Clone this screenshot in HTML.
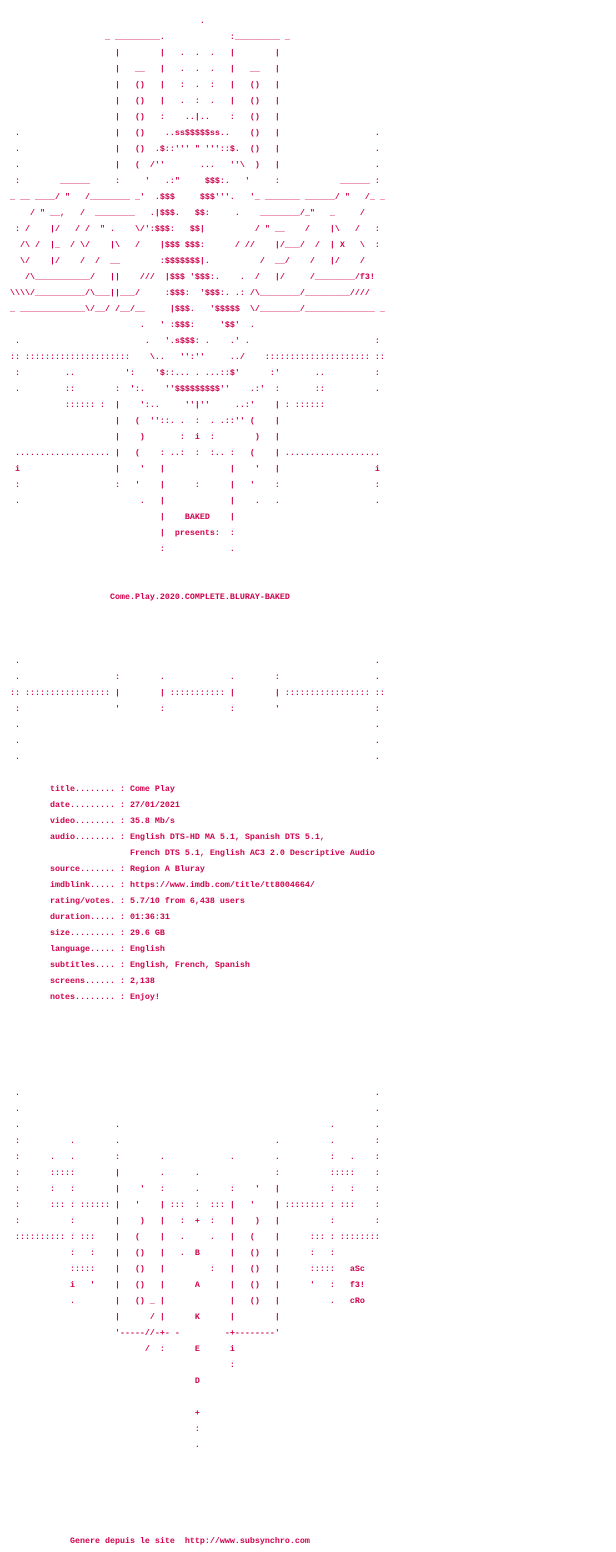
<!DOCTYPE html>
<html><head><meta charset="utf-8"><style>
html,body{margin:0;padding:0;background:#fff;width:616px;height:1552px;overflow:hidden}
pre{margin:0;padding:13px 0 0 0;font-family:"Liberation Mono",monospace;font-size:8.333px;line-height:16px;color:#d0004c;font-weight:bold;white-space:pre}
</style></head><body><pre>                                        .
                     _ _________.             :_________ _
                       |        |   .  .  .   |        |
                       |   __   |   .  .  .   |   __   |
                       |   ()   |   :  .  :   |   ()   |
                       |   ()   |   .  :  .   |   ()   |
                       |   ()   :    ..|..    :   ()   |
   .                   |   ()    ..ss$$$$$ss..    ()   |                   .
   .                   |   ()  .$::''' " '''::$.  ()   |                   .
   .                   |   (  /''       ...   ''\  )   |                   .
   :        ______     :     '   .:"     $$$:.   '     :            ______ :
  _ __ ____/ "   /________ _'  .$$$     $$$'''.   '_ _______ ______/ "   /_ _
      / " __,   /  ________   .|$$$.   $$:     .    ________/_"   _     /
   : /    |/   / /  " .    \/':$$$:   $$|          / " __    /    |\   /   :
    /\ /  |_  / \/    |\   /    |$$$ $$$:      / //    |/___/  /  | X   \  :
    \/    |/    /  /  __        :$$$$$$$|.          /  __/    /   |/    /
     /\___________/   ||    ///  |$$$ '$$$:.    .  /   |/     /________/f3!
  \\\\/__________/\___||___/     :$$$:  '$$$:. .: /\________/_________////
  _ _____________\/__/ /__/__     |$$$.   '$$$$$  \/________/______________ _
                            .   ' :$$$:     '$$'  .
   .                         .   '.s$$$: .    .' .                         :
  :: :::::::::::::::::::::    \..   '':''     ../    ::::::::::::::::::::: ::
   :         ..          ':    '$::... . ...::$'      :'       ..          :
   .         ::        :  ':.    ''$$$$$$$$$''    .:'  :       ::          .
             :::::: :  |    ':..     ''|''     ..:'    | : ::::::
                       |   (  ''::. .  :  . .::'' (    |
                       |    )       :  i  :        )   |
   ................... |   (    : ..:  :  :.. :   (    | ...................
   i                   |    '   |             |    '   |                   i
   :                   :   '    |      :      |   '    :                   :
   .                        .   |             |    .   .                   .
                                |    BAKED    |
                                |  presents:  :
                                :             .


                      Come.Play.2020.COMPLETE.BLURAY-BAKED



   .                                                                       .
   .                   :        .             .        :                   .
  :: ::::::::::::::::: |        | ::::::::::: |        | ::::::::::::::::: ::
   :                   '        :             :        '                   :
   .                                                                       .
   .                                                                       .
   .                                                                       .

          title........ : Come Play
          date......... : 27/01/2021
          video........ : 35.8 Mb/s
          audio........ : English DTS-HD MA 5.1, Spanish DTS 5.1,
                          French DTS 5.1, English AC3 2.0 Descriptive Audio
          source....... : Region A Bluray
          imdblink..... : https://www.imdb.com/title/tt8004664/
          rating/votes. : 5.7/10 from 6,438 users
          duration..... : 01:36:31
          size......... : 29.6 GB
          language..... : English
          subtitles.... : English, French, Spanish
          screens...... : 2,138
          notes........ : Enjoy!





   .                                                                       .
   .                                                                       .
   .                   .                                          .        .
   :          .        .                               .          .        :
   :      .   .        :        .             .        .          :   .    :
   :      :::::        |        .      .               :          :::::    :
   :      :   :        |    '   :      .      :    '   |          :   :    :
   :      ::: : :::::: |   '    | :::  :  ::: |   '    | :::::::: : :::    :
   :          :        |    )   |   :  +  :   |    )   |          :        :
   :::::::::: : :::    |   (    |   .     .   |   (    |      ::: : ::::::::
              :   :    |   ()   |   .  B      |   ()   |      :   :
              :::::    |   ()   |         :   |   ()   |      :::::   aSc
              i   '    |   ()   |      A      |   ()   |      '   :   f3!
              .        |   () _ |             |   ()   |          .   cRo
                       |      / |      K      |        |
                       '-----//-+- -         -+--------'
                             /  :      E      i
                                              :
                                       D

                                       +
                                       :
                                       .





              Genere depuis le site  http://www.subsynchro.com
</pre></body></html>
